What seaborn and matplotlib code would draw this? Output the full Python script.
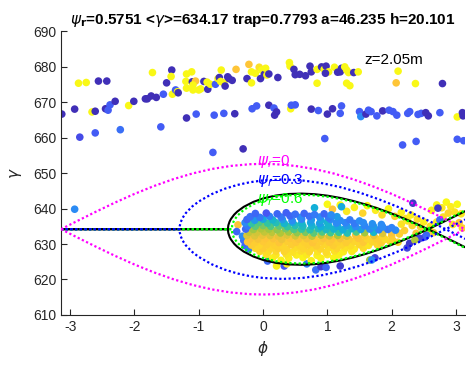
import numpy as np
import pandas as pd
import matplotlib
matplotlib.use("Agg")
import matplotlib.pyplot as plt
from matplotlib.colors import LinearSegmentedColormap
import seaborn as sns

# ---------------------------------------------------------------- data
gamma_r = 634.17

# separatrix half-heights (delta gamma) versus phase for several resonant phases
phase_psi0 = [-3.1416, -2.9, -2.6, -2.3, -2.0, -1.7, -1.4, -1.1, -0.8, -0.5, -0.2, 0.0,
              0.2, 0.5, 0.8, 1.1, 1.4, 1.7, 2.0, 2.3, 2.6, 2.9, 3.1416]
half_psi0 = [0, 2.22, 4.92, 7.52, 9.94, 12.14, 14.07, 15.69, 16.95, 17.83, 18.31, 18.40,
             18.31, 17.83, 16.95, 15.69, 14.07, 12.14, 9.94, 7.52, 4.92, 2.22, 0]

phase_psi03 = [-3.1416, -1.299, -1.295, -1.28, -1.25, -1.2, -1.1, -1.0, -0.8, -0.6, -0.4, -0.2,
               0.0, 0.3, 0.6, 0.9, 1.2, 1.5, 1.8, 2.1, 2.4, 2.6, 2.7, 2.8416, 2.95, 3.05, 3.1416]
half_psi03 = [0, 0, 0.93, 2.02, 3.23, 4.57, 6.43, 7.81, 9.87, 11.37, 12.47, 13.25,
              13.74, 14.01, 13.76, 13.03, 11.87, 10.32, 8.43, 6.26, 3.85, 2.14, 1.26, 0, 0.98, 1.85, 2.73]

phase_psi06 = [-3.1416, -0.486, -0.48, -0.47, -0.45, -0.4, -0.3, -0.15, 0.0, 0.2, 0.4, 0.6, 0.8,
               1.0, 1.2, 1.4, 1.6, 1.8, 2.0, 2.2, 2.4, 2.5416, 2.7, 2.9, 3.1416]
half_psi06 = [0, 0, 1.02, 1.67, 2.49, 3.80, 5.46, 7.06, 8.13, 9.04, 9.54, 9.69, 9.55,
              9.16, 8.53, 7.70, 6.69, 5.51, 4.18, 2.73, 1.16, 0, 1.35, 3.10, 5.27]

phase_psir = [-3.1416, -0.547, -0.54, -0.52, -0.5, -0.45, -0.4, -0.3, -0.15, 0.0, 0.2, 0.4, 0.6,
              0.8, 1.0, 1.2, 1.4, 1.6, 1.8, 2.0, 2.2, 2.4, 2.5665, 2.75, 2.95, 3.1416]
half_psir = [0, 0, 1.10, 2.18, 2.87, 4.09, 4.98, 6.31, 7.70, 8.66, 9.49, 9.92, 10.03,
             9.87, 9.45, 8.81, 7.96, 6.94, 5.75, 4.41, 2.95, 1.38, 0, 1.58, 3.34, 5.07]

# particle tone values (0 = dark blue ... 1 = yellow)
D, B, O, OY, Y = 0.03, 0.17, 0.86, 0.93, 0.99

# untrapped particles: upper band (phase, gamma, tone)
band_left = [
    (-3.13, 666.6, D), (-2.93, 668.0, D), (-2.87, 675.3, Y), (-2.75, 675.5, Y), (-2.85, 660.1, 0.12),
    (-2.66, 667.2, Y), (-2.61, 667.4, D), (-2.61, 661.3, B), (-2.56, 675.9, D), (-2.43, 675.9, D),
    (-2.45, 668.1, D), (-2.41, 667.7, B), (-2.38, 669.2, B), (-2.30, 670.2, D), (-2.22, 662.2, 0.22),
    (-2.09, 669.0, Y), (-2.01, 670.2, D), (-1.83, 670.9, D), (-1.80, 670.9, D), (-1.74, 671.7, D),
    (-1.72, 678.3, Y), (-1.66, 671.3, D), (-1.59, 663.0, B), (-1.55, 672.2, B), (-1.50, 675.4, D),
    (-1.42, 679.0, D), (-1.43, 677.2, Y), (-1.41, 672.2, Y), (-1.36, 673.4, B), (-1.33, 672.9, Y),
    (-1.32, 672.6, D), (-1.19, 665.5, D), (-1.19, 677.9, Y), (-1.20, 675.8, Y), (-1.11, 678.5, Y),
    (-1.19, 673.9, Y), (-1.10, 675.7, D), (-1.05, 675.9, O), (-1.09, 673.4, Y), (-1.09, 674.8, Y),
    (-1.04, 666.6, B), (-1.00, 673.4, Y), (-0.97, 673.7, Y), (-0.92, 675.8, D), (-0.86, 673.6, D),
    (-0.87, 675.6, Y), (-0.82, 675.0, Y), (-0.78, 655.8, B), (-0.76, 666.3, B), (-0.74, 675.0, B),
    (-0.70, 676.6, Y), (-0.68, 676.9, D), (-0.65, 679.0, Y), (-0.66, 675.8, Y), (-0.61, 675.4, Y),
    (-0.59, 674.5, D), (-0.61, 666.8, B), (-0.55, 677.1, D), (-0.53, 676.6, D), (-0.48, 676.1, D),
    (-0.44, 666.7, D), (-0.42, 679.2, O), (-0.31, 656.8, D), (-0.25, 676.6, D), (-0.22, 680.6, O),
    (-0.18, 678.5, Y), (-0.18, 675.4, Y), (-0.17, 668.1, B), (-0.10, 668.9, B), (-0.12, 678.1, Y),
    (-0.06, 679.8, OY), (-0.04, 676.6, D), (-0.02, 679.0, Y), (0.02, 677.8, D),
]
band_right = [
    (0.04, 679.5, Y), (0.06, 677.6, Y), (0.09, 677.9, D), (0.23, 676.9, D), (0.41, 681.1, Y),
    (0.42, 680.1, Y), (0.48, 679.2, D), (0.50, 677.7, D), (0.57, 677.8, D), (0.66, 677.4, D),
    (0.73, 680.1, D), (0.75, 678.5, D), (0.84, 679.2, Y), (0.84, 675.3, Y), (0.91, 679.9, D),
    (0.95, 679.2, Y), (0.98, 680.1, D), (1.02, 678.5, Y), (0.97, 678.1, D), (1.11, 679.8, Y),
    (1.16, 678.4, D), (1.20, 678.5, D), (1.22, 679.5, D), (1.27, 679.9, Y), (1.30, 679.0, Y),
    (1.33, 678.3, Y), (1.30, 675.3, Y), (1.35, 674.6, Y), (1.41, 678.3, D), (1.48, 678.5, Y),
    (2.10, 678.7, Y), (2.07, 675.4, O), (2.37, 675.2, Y), (2.79, 675.2, D),
    (0.09, 669.1, D), (0.17, 668.3, B), (0.21, 667.2, D), (0.18, 666.3, D), (0.43, 668.1, Y),
    (0.44, 669.1, B), (0.50, 669.2, B), (0.75, 668.0, D), (0.86, 667.6, B), (1.00, 666.6, D),
    (1.08, 668.1, D), (1.20, 666.8, B), (1.22, 668.9, B), (1.50, 667.3, B), (1.52, 665.9, 0.3),
    (1.60, 666.6, D), (1.64, 667.7, B), (1.68, 667.3, B), (1.77, 666.1, B), (1.86, 667.5, D),
    (1.96, 667.7, B), (2.02, 667.3, B), (2.08, 666.3, B), (2.25, 666.8, B), (2.28, 667.3, B),
    (2.41, 666.5, B), (2.46, 666.8, B), (2.53, 667.0, D), (2.57, 666.1, D), (2.75, 667.0, B),
    (3.02, 665.8, Y), (3.10, 667.0, D), (3.11, 666.1, D),
    (0.96, 659.7, B), (2.17, 657.9, B), (2.38, 658.9, B), (3.02, 659.5, B), (3.12, 659.1, B),
]

# particles scattered around the bucket
loose = [
    (-2.93, 639.8, 0.3), (-0.39, 635.4, O), (-0.41, 633.5, 0.2), (-0.30, 631.0, 0.22),
    (-0.28, 629.5, 0.2), (-0.22, 628.6, 0.25), (-0.32, 632.2, 0.3),
    (1.00, 641.2, Y), (1.08, 639.8, O), (1.20, 641.0, Y), (1.30, 639.2, 0.95), (1.42, 640.3, 0.97),
    (1.55, 638.7, 0.9), (1.62, 640.8, Y), (1.75, 639.5, 0.96), (1.85, 638.2, 0.92), (1.95, 639.9, Y),
    (2.05, 637.8, 0.9), (2.15, 638.9, 0.97), (2.22, 637.2, 0.93), (0.80, 640.2, 0.42), (1.22, 640.5, 0.4),
    (2.25, 636.5, 0.95), (2.32, 635.2, 0.9), (2.30, 638.2, 0.97), (2.40, 637.0, 0.92), (2.45, 634.8, 0.88),
    (2.50, 636.2, 0.96), (2.55, 633.5, 0.9), (2.20, 633.8, 0.88), (2.12, 632.8, 0.9), (2.15, 635.6, 0.93),
    (2.38, 633.0, 0.85), (2.60, 635.0, 0.92), (2.65, 633.2, 0.88), (2.70, 636.2, 0.95), (2.02, 631.0, 0.88),
    (2.10, 630.5, 0.9),
    (2.62, 639.5, 0.97), (2.70, 641.0, Y), (2.78, 640.2, 0.95), (2.85, 641.8, Y), (2.92, 640.5, 0.96),
    (2.98, 639.0, 0.93), (3.02, 641.2, Y), (3.08, 638.5, 0.95), (2.88, 638.7, 0.9), (2.80, 637.6, 0.92),
    (3.05, 636.0, O), (3.10, 634.5, 0.9), (2.95, 635.5, 0.94),
    (2.72, 640.1, 0.06), (2.33, 641.5, 0.06),
    (2.24, 628.9, 0.1), (2.39, 631.7, 0.08), (2.52, 632.0, 0.15), (2.75, 636.8, 0.2), (2.28, 630.2, 0.06),
    (2.44, 631.6, 0.1), (2.54, 632.5, 0.2), (2.36, 631.1, 0.72),
    (0.21, 623.8, 0.97), (0.33, 623.8, 0.15), (0.37, 624.4, 0.95), (0.68, 624.4, 0.25), (0.82, 622.7, 0.22),
    (0.90, 623.6, 0.08), (0.98, 623.4, 0.2), (1.20, 623.8, 0.08), (0.07, 625.2, 0.2), (1.66, 625.5, 0.7),
    (1.74, 626.1, 0.1), (1.69, 625.5, 0.3),
]

# trapped particles inside the bucket, listed from the bottom of the bucket upwards
trapped = [
    (0.28, 625.4, 0.98), (0.75, 625.3, 0.97),
    (0.15, 626.1, 0.97), (0.40, 626.0, 0.96), (0.62, 626.2, 0.98), (0.90, 626.0, 0.97), (1.10, 626.1, 0.98),
    (0.05, 627.0, 0.93), (0.20, 626.9, 0.95), (0.36, 627.1, 0.94), (0.52, 626.9, 0.96), (0.68, 627.0, 0.95),
    (0.84, 626.8, 0.97), (1.00, 627.0, 0.95), (1.18, 626.9, 0.97),
    (-0.05, 627.9, 0.9), (0.08, 627.8, 0.92), (0.20, 628.0, 0.91), (0.33, 627.9, 0.9), (0.46, 627.7, 0.93),
    (0.59, 628.0, 0.92), (0.72, 627.8, 0.9), (0.85, 627.9, 0.94), (0.98, 627.7, 0.92), (1.11, 628.0, 0.93),
    (1.25, 627.8, 0.96), (1.38, 627.9, 0.95),
    (-0.12, 628.8, 0.9), (0.00, 628.7, 0.88), (0.12, 628.9, 0.9), (0.24, 628.8, 0.89), (0.37, 628.6, 0.9),
    (0.50, 628.9, 0.92), (0.63, 628.7, 0.9), (0.76, 628.8, 0.91), (0.89, 628.6, 0.9), (1.02, 628.9, 0.92),
    (1.15, 628.7, 0.9), (1.28, 628.8, 0.93), (1.42, 628.6, 0.95), (1.56, 628.8, 0.92),
    (-0.18, 629.7, 0.88), (-0.06, 629.6, 0.9), (0.06, 629.8, 0.88), (0.18, 629.7, 0.89), (0.31, 629.5, 0.9),
    (0.44, 629.8, 0.88), (0.57, 629.6, 0.9), (0.70, 629.7, 0.89), (0.83, 629.5, 0.88), (0.96, 629.8, 0.9),
    (1.09, 629.6, 0.88), (1.22, 629.7, 0.9), (1.36, 629.5, 0.92), (1.50, 629.8, 0.9), (1.64, 629.6, 0.94),
    (1.78, 629.7, 0.9),
    (-0.24, 630.6, 0.86), (-0.12, 630.5, 0.88), (0.00, 630.7, 0.87), (0.12, 630.6, 0.88), (0.25, 630.4, 0.86),
    (0.38, 630.7, 0.88), (0.51, 630.5, 0.87), (0.64, 630.6, 0.89), (0.77, 630.4, 0.86), (0.90, 630.7, 0.88),
    (1.03, 630.5, 0.87), (1.16, 630.6, 0.89), (1.29, 630.4, 0.88), (1.42, 630.7, 0.9), (1.56, 630.5, 0.87),
    (1.70, 630.6, 0.9), (1.84, 630.4, 0.88), (1.98, 630.6, 0.9),
    (-0.20, 631.5, 0.85), (-0.08, 631.4, 0.84), (0.04, 631.6, 0.86), (0.16, 631.5, 0.85), (0.29, 631.3, 0.83),
    (0.42, 631.6, 0.86), (0.55, 631.4, 0.85), (0.68, 631.5, 0.84), (0.81, 631.3, 0.87), (0.94, 631.6, 0.85),
    (1.07, 631.4, 0.86), (1.20, 631.5, 0.84), (1.34, 631.3, 0.88), (1.48, 631.6, 0.86), (1.62, 631.4, 0.9),
    (1.76, 631.5, 0.88), (1.90, 631.3, 0.92),
    (-0.25, 632.4, 0.8), (-0.13, 632.3, 0.8), (-0.01, 632.5, 0.82), (0.11, 632.4, 0.8), (0.24, 632.2, 0.82),
    (0.37, 632.5, 0.8), (0.50, 632.3, 0.78), (0.63, 632.4, 0.8), (0.76, 632.2, 0.75), (0.90, 632.5, 0.75),
    (1.03, 632.3, 0.78), (1.16, 632.4, 0.72), (1.30, 632.2, 0.8), (1.44, 632.5, 0.85), (1.58, 632.3, 0.88),
    (1.72, 632.4, 0.82), (1.86, 632.2, 0.9), (2.00, 632.3, 0.88),
    (-0.22, 633.3, 0.75), (-0.10, 633.2, 0.78), (0.02, 633.4, 0.75), (0.14, 633.3, 0.74), (0.27, 633.1, 0.72),
    (0.40, 633.4, 0.7), (0.53, 633.2, 0.68), (0.66, 633.3, 0.65), (0.79, 633.1, 0.62), (0.92, 633.4, 0.6),
    (1.05, 633.2, 0.58), (1.18, 633.3, 0.55), (1.31, 633.1, 0.5), (1.45, 633.4, 0.6), (1.58, 633.2, 0.7),
    (1.72, 633.3, 0.45), (1.86, 633.0, 0.8), (2.00, 633.2, 0.85), (2.12, 633.0, 0.88),
    (-0.27, 634.2, 0.2), (-0.15, 634.1, 0.7), (-0.03, 634.3, 0.72), (0.09, 634.2, 0.7), (0.22, 634.0, 0.68),
    (0.35, 634.3, 0.65), (0.48, 634.1, 0.6), (0.60, 634.2, 0.55), (0.73, 634.0, 0.52), (0.86, 634.3, 0.5),
    (0.98, 634.1, 0.48), (1.10, 634.2, 0.45), (1.24, 634.0, 0.42), (1.38, 634.3, 0.45), (1.52, 634.1, 0.38),
    (1.66, 634.2, 0.3), (1.80, 634.0, 0.28), (1.94, 634.1, 0.25), (2.06, 633.9, 0.3),
    (-0.24, 635.1, 0.25), (-0.12, 635.0, 0.62), (0.00, 635.2, 0.65), (0.12, 635.0, 0.6), (0.25, 635.1, 0.62),
    (0.38, 634.9, 0.55), (0.50, 635.2, 0.5), (0.62, 635.0, 0.48), (0.76, 635.1, 0.45), (0.90, 634.9, 0.42),
    (1.02, 635.2, 0.45), (1.16, 635.0, 0.4), (1.30, 635.1, 0.35), (1.44, 634.9, 0.3), (1.58, 635.1, 0.28),
    (1.72, 634.9, 0.35), (1.86, 634.8, 0.3), (2.00, 634.6, 0.28),
    (-0.28, 636.0, 0.3), (-0.18, 635.8, 0.55), (-0.06, 636.1, 0.6), (0.07, 635.9, 0.55), (0.20, 636.0, 0.5),
    (0.33, 635.8, 0.45), (0.46, 636.1, 0.4), (0.60, 635.9, 0.45), (0.74, 636.0, 0.4), (0.88, 635.8, 0.35),
    (1.00, 636.1, 0.45), (1.14, 635.9, 0.3), (1.28, 636.0, 0.28), (1.42, 635.8, 0.25), (1.56, 636.0, 0.3),
    (1.70, 635.7, 0.32), (1.84, 635.5, 0.3),
    (-0.25, 636.9, 0.2), (-0.13, 636.7, 0.35), (0.00, 637.0, 0.4), (0.15, 636.8, 0.45), (0.30, 636.9, 0.35),
    (0.45, 636.6, 0.3), (0.60, 637.0, 0.28), (0.75, 636.8, 0.35), (0.90, 636.7, 0.4), (1.05, 636.9, 0.3),
    (1.20, 636.6, 0.3), (1.35, 636.8, 0.25), (1.50, 636.5, 0.3),
    (-0.20, 637.7, 0.22), (-0.05, 637.5, 0.25), (0.10, 637.8, 0.28), (0.28, 637.6, 0.25), (0.42, 637.9, 0.2),
    (0.58, 637.5, 0.3), (0.72, 637.8, 0.22), (0.88, 637.6, 0.3), (1.02, 637.4, 0.25), (1.15, 637.7, 0.35),
    (-0.12, 638.6, 0.2), (0.05, 638.7, 0.15), (0.22, 638.5, 0.2), (0.36, 638.8, 0.18), (0.50, 638.4, 0.22),
    (0.64, 638.6, 0.2), (0.80, 638.3, 0.25), (0.95, 638.5, 0.2), (1.06, 638.2, 0.3),
]

y_ticks = [610, 620, 630, 640, 650, 660, 670, 680, 690]
x_ticks = [-3, -2, -1, 0, 1, 2, 3]

# ---------------------------------------------------------------- style
sns.set_style("ticks")
plt.rcParams["font.family"] = ["Liberation Sans", "DejaVu Sans"]
plt.rcParams["mathtext.fontset"] = "dejavusans"

axis_grey = "#262626"
parula = LinearSegmentedColormap.from_list("parula", [
    (0.2422, 0.1504, 0.6603), (0.2810, 0.3228, 0.9579), (0.1786, 0.5289, 0.9682),
    (0.0689, 0.6948, 0.8394), (0.2161, 0.7843, 0.5923), (0.6720, 0.7793, 0.2227),
    (0.9970, 0.7659, 0.2199), (0.9769, 0.9839, 0.0805)])

fig = plt.figure(figsize=(4.66, 3.65), dpi=100)
ax = fig.add_axes([0.131, 0.137, 0.867, 0.778])

cols = ["phase", "gamma", "tone"]
particles = pd.DataFrame(band_left + band_right + loose + trapped, columns=cols)
sns.scatterplot(data=particles, x="phase", y="gamma", hue="tone", palette=parula,
                hue_norm=(0, 1), s=30, linewidth=0, alpha=1, legend=False, ax=ax, zorder=2)


def bucket(phase, half, **kw):
    up = [gamma_r + h for h in half]
    lo = [gamma_r - h for h in half]
    ax.plot(phase, up, **kw)
    ax.plot(phase, lo, **kw)


bucket(phase_psir, half_psir, color="black", lw=1.5, zorder=3)
dots = dict(lw=1.6, linestyle=(0, (1, 1.1)), zorder=4)
bucket(phase_psi06, half_psi06, color=(0, 1, 0), **dots)
bucket(phase_psi03, half_psi03, color=(0, 0, 1), **dots)
bucket(phase_psi0, half_psi0, color=(1, 0, 1), **dots)

ax.text(-0.1, 653.2, r"$\psi_r$=0", color=(1, 0, 1), fontsize=11, va="center", zorder=5)
ax.text(-0.1, 648.0, r"$\psi_r$=0.3", color=(0, 0, 1), fontsize=11, va="center", zorder=5)
ax.text(-0.1, 642.4, r"$\psi_r$=0.6", color=(0, 1, 0), fontsize=11, va="center", zorder=5)
ax.text(1.57, 681.8, "z=2.05m", color="black", fontsize=11, va="center", zorder=5)

ax.set_xlim(-np.pi, np.pi)
ax.set_ylim(610, 690)
ax.set_xticks(x_ticks)
ax.set_xticklabels([str(t) for t in x_ticks])
ax.set_yticks(y_ticks)
ax.set_yticklabels([str(t) for t in y_ticks])
ax.tick_params(direction="in", length=4, width=0.8, colors=axis_grey, labelsize=10)
for side in ("top", "right"):
    ax.spines[side].set_visible(False)
for side in ("left", "bottom"):
    ax.spines[side].set_color(axis_grey)
    ax.spines[side].set_linewidth(0.8)

ax.set_xlabel(r"$\phi$", fontsize=11, color=axis_grey, labelpad=4)
ax.set_ylabel(r"$\gamma$", fontsize=11, color=axis_grey, labelpad=6)
ax.set_title(r"$\psi_\mathbf{r}$=0.5751 <$\gamma$>=634.17 trap=0.7793 a=46.235 h=20.101",
             fontsize=11, fontweight="bold", color="black", pad=5)

fig.savefig("out.png", dpi=100)
